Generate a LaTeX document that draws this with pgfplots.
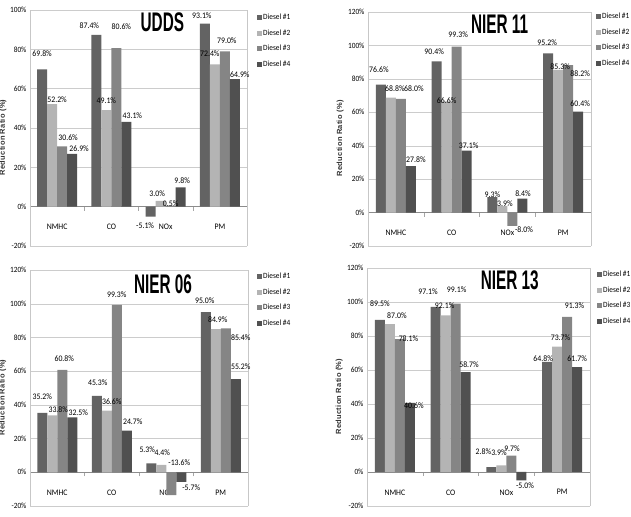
\documentclass[border=0pt]{standalone}
\usepackage{pgfplots}
\usepackage{pgfplotstable}
\pgfplotsset{compat=1.18}
\usepackage{fontspec}
\setmainfont{Carlito}[FakeStretch=0.92]
\newfontfamily\titlefont{Liberation Sans}[FakeStretch=0.57]
\newfontfamily\labfont{Liberation Sans}[LetterSpace=4]
\definecolor{dA}{HTML}{636363}
\definecolor{dB}{HTML}{B4B4B4}
\definecolor{dC}{HTML}{858585}
\definecolor{dD}{HTML}{505050}

% columns: category, values of Diesel #1..#4, then label offsets (dx, dy in bp) per series
\pgfplotstableread{
x d1 d2 d3 d4 a1 b1 a2 b2 a3 b3 a4 b4
0 69.8 52.2 30.6 26.9 0 11 5 0 6 4 7 0
1 87.4 49.1 80.6 43.1 -7 5 0 5 5 17 6 2
2 -5.1 3.0 0.5 9.8 -5.5 -4.5 -3.5 2.5 0 -2.5 1.5 2
3 93.1 72.4 79.0 64.9 -3 3 -5 6 2 6 5 0
}\udds
\pgfplotstableread{
x d1 d2 d3 d4 a1 b1 a2 b2 a3 b3 a4 b4
0 76.6 68.8 68.0 27.8 -2 10 4 4.5 13 5.5 5 2
1 90.4 66.6 99.3 37.1 -2.5 5.5 0 -4.5 1.5 7.5 2 0
2 9.3 3.9 -8.0 8.4 0 -2 2.5 -2 11.6 1 0.6 0
3 95.2 85.3 88.2 60.4 -1 6.5 2 -1 12 -13 2 3.5
}\nierA
\pgfplotstableread{
x d1 d2 d3 d4 a1 b1 a2 b2 a3 b3 a4 b4
0 35.2 33.8 60.8 32.5 0 12 6 1.5 2 7 6 0.5
1 45.3 36.6 99.3 24.7 1 9 5 4.5 0 6 6 4.5
2 5.3 4.4 -13.6 -5.7 -4 9.5 1 8 8 37.5 10 -1
3 95.0 84.9 85.4 55.2 -1 6.5 2 4.5 15 -13.5 5 7.5
}\nierB
\pgfplotstableread{
x d1 d2 d3 d4 a1 b1 a2 b2 a3 b3 a4 b4
0 89.5 87.0 78.1 40.6 0 11.5 7 3.5 8.6 -4.5 4 -7.5
1 97.1 92.1 99.1 58.7 -7.6 10.5 -1 5 1 9 3.4 2.5
2 2.8 3.9 9.7 -5.0 -8 10.5 -2.4 8.5 0.6 2 3.6 -1
3 64.8 73.7 91.3 61.7 -4 -1.5 3.4 4.5 7.4 6.5 0 3.5
}\nierC

\pgfplotsset{
 panel/.style={
  scale only axis,
  ybar=0pt, bar width=10bp,
  xmin=-0.5, xmax=3.5,
  ymin=-20,
  axis x line=middle, axis y line=box,
  x axis line style={draw=black!45,-},
  y axis line style={draw=black!22,-},
  hide obscured x ticks=false, hide obscured y ticks=false,
  xtick={0,1,2,3}, xticklabels={NMHC,CO,NOx,PM},
  minor xtick={0.5,1.5,2.5},
  major tick length=0pt, minor tick length=4bp,
  xtick align=outside,
  minor tick style={draw=black!35},
  xticklabel style={yshift=-14bp, font=\fontsize{8.5}{10}\selectfont, text=black},
  ymajorgrids, major grid style={draw=black!20},
  /pgf/number format/assume math mode=true,
  yticklabel={\pgfmathprintnumber{\tick}\%},
  yticklabel style={font=\fontsize{8}{10}\selectfont, text=black},
  nodes near coords={\pgfmathprintnumber[fixed,fixed zerofill,precision=1]{\pgfplotspointmeta}\%},
  every node near coord/.append style={font=\fontsize{8.5}{10}\selectfont, text=black, inner sep=1.5bp},
  legend style={draw=none, fill=none, anchor=north west, inner sep=0pt,
    font=\fontsize{8}{9.5}\selectfont, text=black, row sep=6.5bp,
    nodes={inner sep=1bp},
    /tikz/every even column/.append style={column sep=1.5bp}},
  legend cell align=left,
  legend image code/.code={\fill[##1] (0bp,-2.6bp) rectangle (5bp,2.6bp);},
  every axis y label/.style={at={(axis description cs:-0.125,0.46)},rotate=90,anchor=center, font=\labfont\bfseries\fontsize{7.5}{9}\selectfont, text=black!80},
  ylabel={Reduction Ratio (\%)},
  title style={font=\titlefont\bfseries\fontsize{27}{30}\selectfont, anchor=center},
 },
 off/.style 2 args={
  visualization depends on={\thisrow{#1}\as\dxv},
  visualization depends on={\thisrow{#2}\as\dyv},
  every node near coord/.append style={xshift=\dxv bp, yshift=\dyv bp}},
 s1/.style={fill=dA, draw=none, off={a1}{b1}},
 s2/.style={fill=dB, draw=none, off={a2}{b2}},
 s3/.style={fill=dC, draw=none, off={a3}{b3}},
 s4/.style={fill=dD, draw=none, off={a4}{b4}},
}

\begin{document}
\begin{tikzpicture}
\useasboundingbox (0,0) rectangle (631bp,517bp);

% UDDS
\begin{axis}[panel, at={(30bp,271bp)}, anchor=south west, width=217bp, height=236bp,
  ymax=100, ytick={-20,0,20,40,60,80,100},
  title={UDDS}, title style={at={(axis description cs:0.61,0.924)}},
  legend style={at={(axis description cs:1,1)}, xshift=10bp, yshift=-3bp}]
\addplot[s1] table[x=x,y=d1]{\udds};
\addplot[s2] table[x=x,y=d2]{\udds};
\addplot[s3] table[x=x,y=d3]{\udds};
\addplot[s4] table[x=x,y=d4]{\udds};
\legend{Diesel \#1,Diesel \#2,Diesel \#3,Diesel \#4}
\end{axis}

% NIER 11
\begin{axis}[panel, at={(368bp,271bp)}, anchor=south west, width=223bp, height=234bp,
  ymax=120, ytick={-20,0,20,40,60,80,100,120},
  title={NIER 11}, title style={at={(axis description cs:0.59,0.923)}},
  legend style={at={(axis description cs:1,1)}, xshift=5bp, yshift=-0bp}]
\addplot[s1] table[x=x,y=d1]{\nierA};
\addplot[s2] table[x=x,y=d2]{\nierA};
\addplot[s3] table[x=x,y=d3]{\nierA};
\addplot[s4] table[x=x,y=d4]{\nierA};
\legend{Diesel \#1,Diesel \#2,Diesel \#3,Diesel \#4}
\end{axis}

% NIER 06
\begin{axis}[panel, at={(30bp,11bp)}, anchor=south west, width=218bp, height=236bp,
  ymax=120, ytick={-20,0,20,40,60,80,100,120},
  title={NIER 06}, title style={at={(axis description cs:0.61,0.915)}},
  legend style={at={(axis description cs:1,1)}, xshift=9bp, yshift=-2bp}]
\addplot[s1] table[x=x,y=d1]{\nierB};
\addplot[s2] table[x=x,y=d2]{\nierB};
\addplot[s3] table[x=x,y=d3]{\nierB};
\addplot[s4] table[x=x,y=d4]{\nierB};
\legend{Diesel \#1,Diesel \#2,Diesel \#3,Diesel \#4}
\end{axis}

% NIER 13
\begin{axis}[panel, at={(367bp,11bp)}, anchor=south west, width=223bp, height=238bp,
  ymax=120, ytick={-20,0,20,40,60,80,100,120},
  title={NIER 13}, title style={at={(axis description cs:0.64,0.924)}},
  legend style={at={(axis description cs:1,1)}, xshift=7bp, yshift=-2bp}]
\addplot[s1] table[x=x,y=d1]{\nierC};
\addplot[s2] table[x=x,y=d2]{\nierC};
\addplot[s3] table[x=x,y=d3]{\nierC};
\addplot[s4] table[x=x,y=d4]{\nierC};
\legend{Diesel \#1,Diesel \#2,Diesel \#3,Diesel \#4}
\end{axis}
\end{tikzpicture}
\end{document}
